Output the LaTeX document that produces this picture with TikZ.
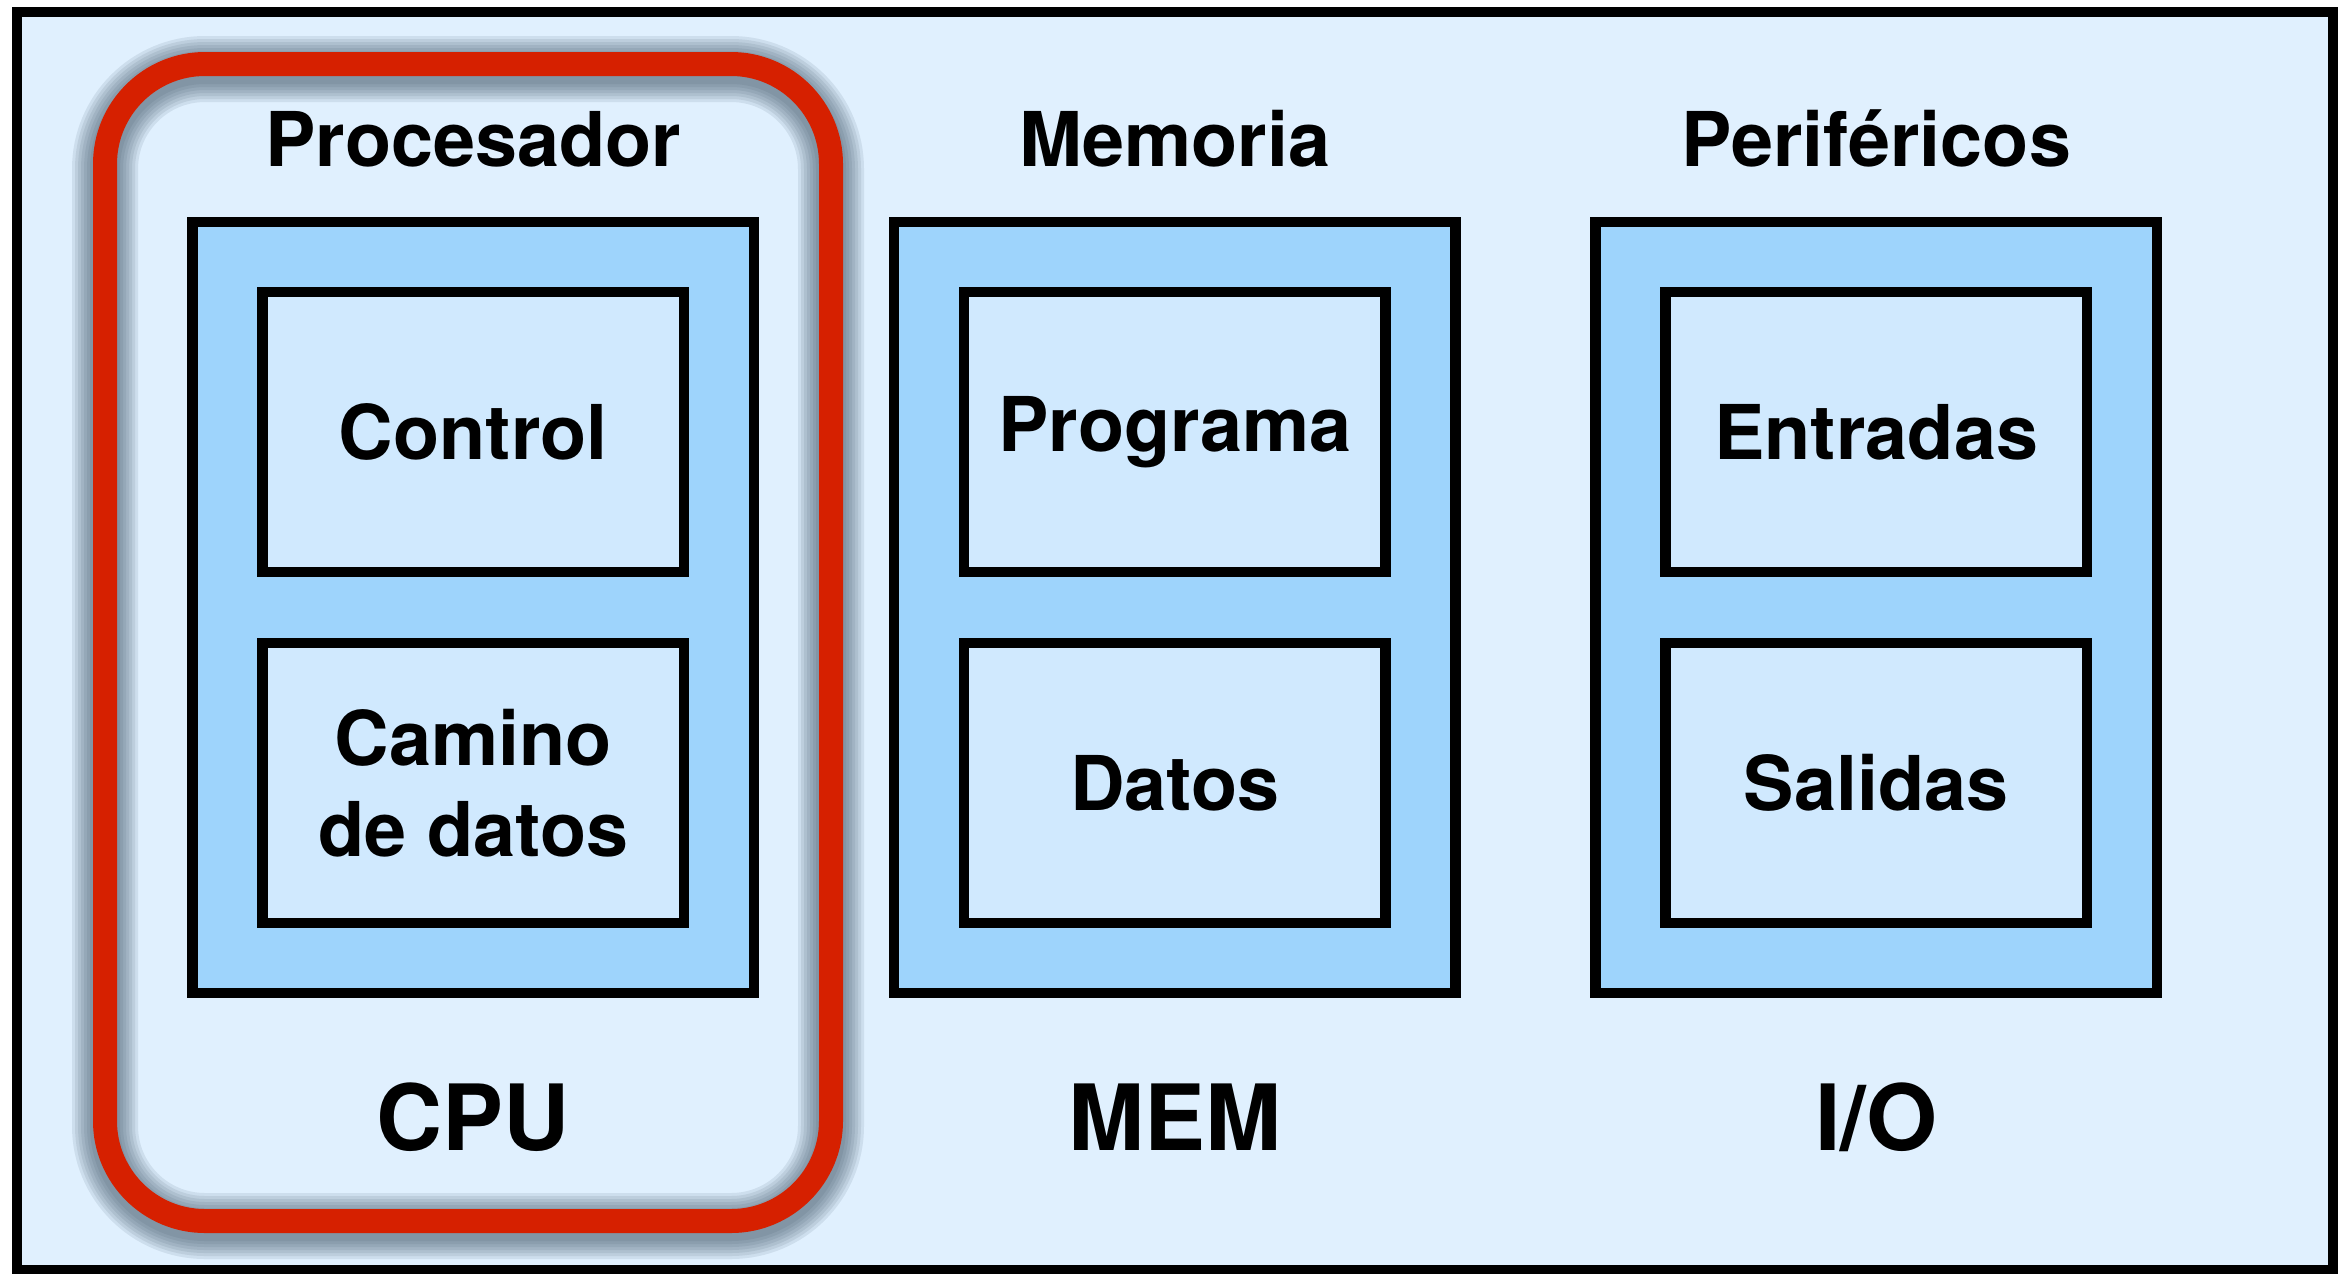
\documentclass[tikz,border=0pt]{standalone}
\usepackage{fontspec}
\setmainfont{TeX Gyre Heros}
\usepackage{tikz}
\usetikzlibrary{positioning}
\definecolor{panel}{RGB}{224, 240, 254}
\definecolor{unitfill}{RGB}{158, 212, 252}
\definecolor{cellfill}{RGB}{208, 233, 254}
\definecolor{hlred}{RGB}{214, 32, 0}
\definecolor{shadowtone}{RGB}{60, 80, 100}

\begin{document}
\begin{tikzpicture}[
    unit/.style={rectangle, draw=black, fill=unitfill, line width=0.105cm, outer sep=0pt, minimum width=5.615cm, minimum height=7.71cm},
    cell/.style={rectangle, draw=black, fill=cellfill, line width=0.105cm, outer sep=0pt, inner sep=0pt, minimum width=4.215cm, minimum height=2.8cm, align=center, font=\fontsize{21.5}{25.9}\selectfont\bfseries},
    title/.style={anchor=base, inner sep=0pt, font=\fontsize{21.5}{26}\selectfont\bfseries},
    tag/.style={anchor=base, inner sep=0pt, font=\fontsize{26}{31}\selectfont\bfseries},
    frame/.style={draw=black, fill=panel, line width=0.1cm},
    highlight/.style={draw=hlred, line width=0.24cm, rounded corners=1cm}
]
    \useasboundingbox (0,0) rectangle (23.45,-12.73);
    \draw [frame] (0.17,-0.115) rectangle (23.33,-12.70);

    % red frame round the processor, soft shadow first
    \coordinate (hlsw) at (1.05,-12.21);
    \coordinate (hlne) at (8.31,-0.64);
    \foreach \w in {0.66,0.60,0.54,0.48,0.42,0.36,0.30}
        \draw [draw=shadowtone, opacity=0.11, line width=\w cm, rounded corners=1cm] ([yshift=-0.05cm]hlsw) rectangle ([yshift=-0.05cm]hlne);
    \draw [highlight] (hlsw) rectangle (hlne);

    % the three units
    \node (cpu) [unit] at (4.7325,-6.075) {};
    \node (mem) [unit, right=1.40cm of cpu] {};
    \node (io) [unit, right=1.40cm of mem] {};

    \node (ctrl) [cell, below=0.7cm of cpu.north] {Control};
    \node (dpath) [cell, below=0.71cm of ctrl] {Camino\\de datos};
    \node (prog) [cell, below=0.7cm of mem.north] {Programa};
    \node (data) [cell, below=0.71cm of prog] {Datos};
    \node (inp) [cell, below=0.7cm of io.north] {Entradas};
    \node (outp) [cell, below=0.71cm of inp] {Salidas};

    % names above and below
    \node (tcpu) [above=0.56cm of cpu.north, title] {Procesador};
    \node (tmem) [above=0.56cm of mem.north, title] {Memoria};
    \node (tio) [above=0.56cm of io.north, title] {Periféricos};
    \node (bcpu) [below=1.57cm of cpu.south, tag] {CPU};
    \node (bmem) [below=1.57cm of mem.south, tag] {MEM};
    \node (bio) [below=1.57cm of io.south, tag] {I/O};
\end{tikzpicture}
\end{document}
